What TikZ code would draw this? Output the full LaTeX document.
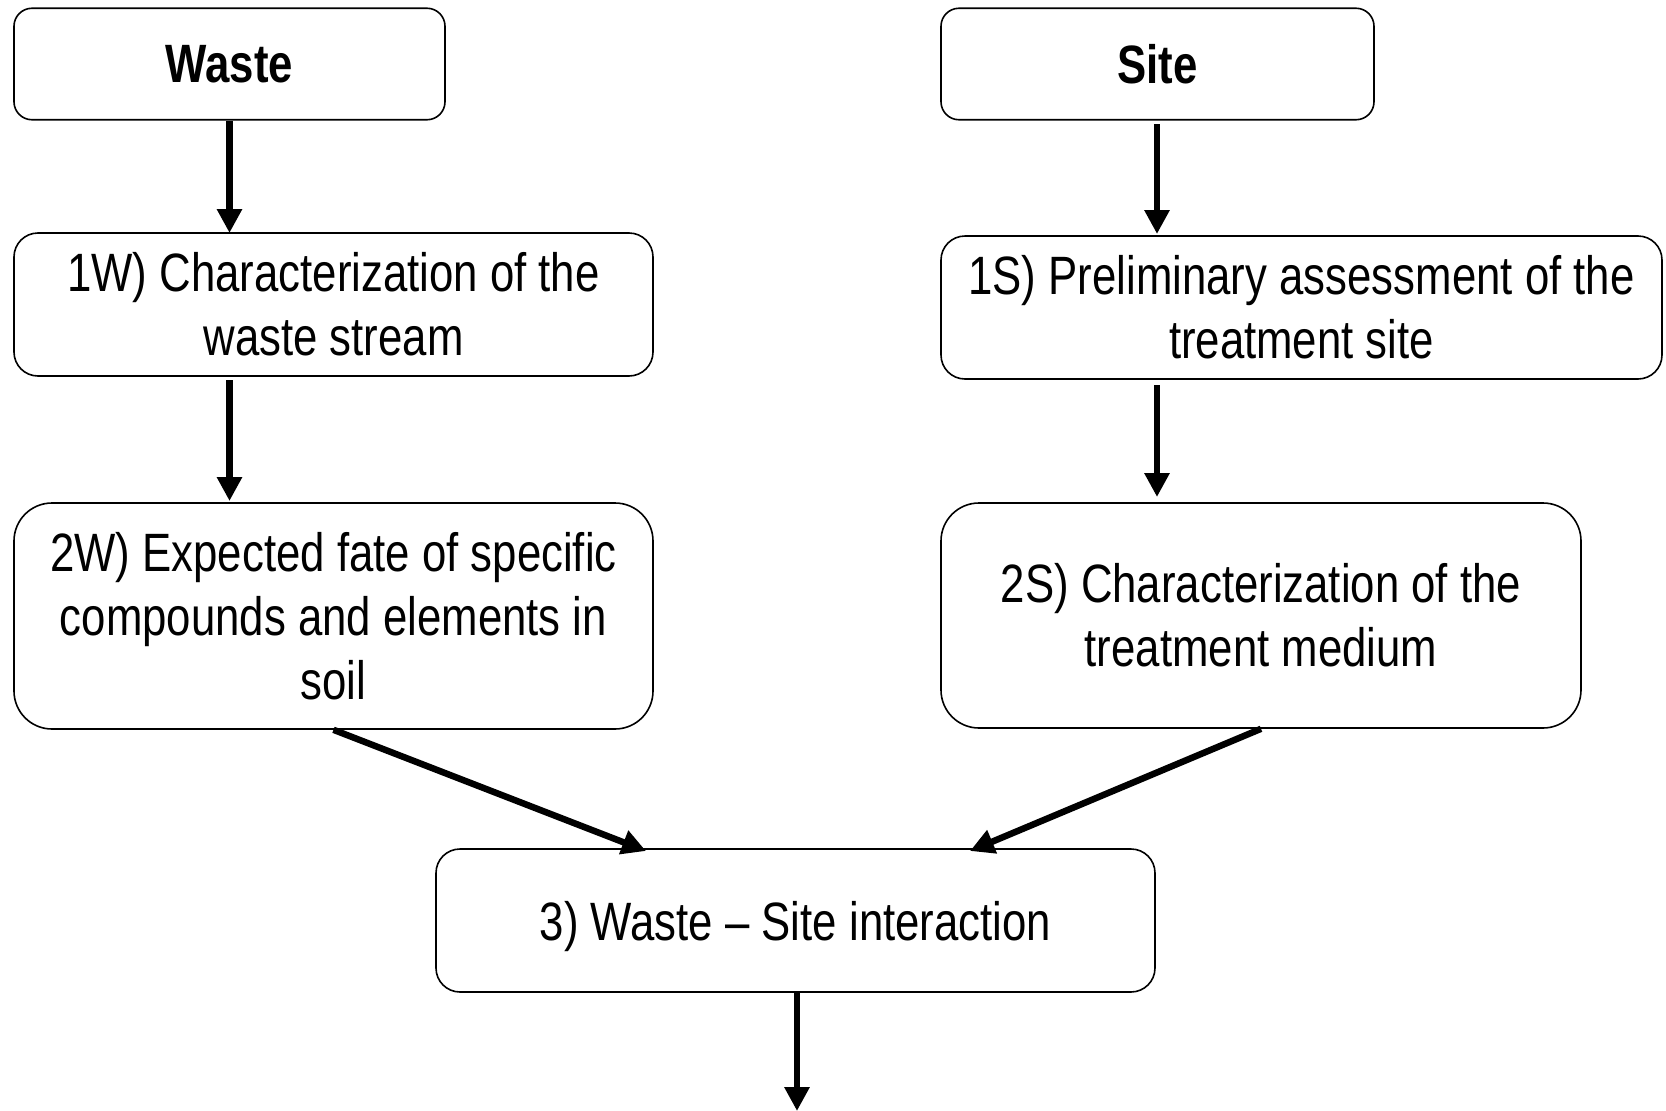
\documentclass[tikz,border=0pt]{standalone}
\usepackage{fontspec}
\setmainfont{Liberation Sans}[FakeStretch=0.81]
\usetikzlibrary{arrows.meta}
\begin{document}
\begin{tikzpicture}[x=1pt,y=-1pt,
  box/.style={draw=black, line width=1.6pt, align=center, inner sep=0pt,
    font=\fontsize{54}{64}\selectfont},
  arr/.style={line width=6.5pt, -{Triangle[length=24pt,width=24pt]}}]
\useasboundingbox (0,0) rectangle (1666,1111);
\node[box, rounded corners=18pt, minimum width=431pt, minimum height=111.5pt, font=\fontsize{54}{64}\selectfont\bfseries] (waste) at (229.5,64) {Waste};
\node[box, rounded corners=18pt, minimum width=433pt, minimum height=111.5pt, font=\fontsize{54}{64}\selectfont\bfseries] (site) at (1157.5,64) {Site};
\node[box, rounded corners=24pt, minimum width=639pt, minimum height=143pt] (w1) at (333.5,304.5) {1W) Characterization of the\\waste stream};
\node[box, rounded corners=24pt, minimum width=721pt, minimum height=143pt] (s1) at (1301.5,307.5) {1S) Preliminary assessment of the\\treatment site};
\node[box, rounded corners=38pt, minimum width=639pt, minimum height=226pt] (w2) at (333.5,616) {2W) Expected fate of specific\\compounds and elements in\\soil};
\node[box, rounded corners=38pt, minimum width=640pt, minimum height=225pt] (s2) at (1261,615.5) {2S) Characterization of the\\treatment medium};
\node[box, rounded corners=24pt, minimum width=719pt, minimum height=143pt] (i3) at (795.5,920.5) {\vphantom{3) Waste -- Site interaction}\smash{\raisebox{-6pt}{3) Waste -- Site interaction}}};
\coordinate (w1top) at (229.5,233);
\coordinate (w2top) at (229.5,501);
\coordinate (s1top) at (1157,234);
\coordinate (s2top) at (1157,497);
\coordinate (i3l) at (646,851);
\coordinate (i3r) at (970,851);
\coordinate (out) at (797,1111);
\draw[arr] (waste.south) -- (w1top);
\draw[arr] (1157,124) -- (s1top);
\draw[arr] (229.5,380) -- (w2top);
\draw[arr] (1157,385) -- (s2top);
\draw[arr] (w2.south) -- (i3l);
\draw[arr] (s2.south) -- (i3r);
\draw[arr] (797,992) -- (out);
\end{tikzpicture}
\end{document}
